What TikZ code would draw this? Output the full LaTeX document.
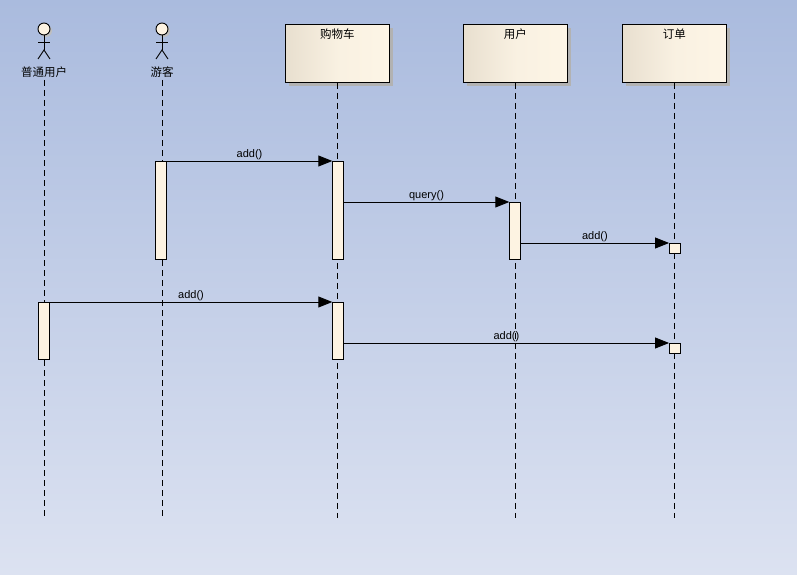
\documentclass[tikz,border=0pt]{standalone}
\usepackage{fontspec}
\setmainfont{Liberation Sans}
\newfontfamily\cjk{Noto Sans CJK SC}
\usetikzlibrary{arrows.meta,shadows}
\definecolor{bgtop}{RGB}{170,187,222}
\definecolor{bgbot}{RGB}{220,226,241}
\definecolor{boxl}{RGB}{232,223,207}
\definecolor{boxr}{RGB}{253,245,230}
\definecolor{actfill}{RGB}{253,243,226}
\tikzset{
  lifeline/.style={draw=black,line width=0.9pt,dash pattern=on 6pt off 4pt},
  objbox/.style={draw=black,line width=0.9pt,left color=boxl,right color=boxr,middle color=boxr!80!boxl,
     minimum width=104pt,minimum height=58pt,inner sep=0pt,anchor=north west,
     drop shadow={shadow xshift=4pt,shadow yshift=-4pt,fill=black!30,opacity=1}},
  actbar/.style={draw=black,line width=0.9pt,fill=actfill,inner sep=0pt,minimum width=10.5pt,anchor=north},
  msg/.style={draw=black,line width=0.9pt,-{Triangle[length=14pt,width=11pt]}},
  lbl/.style={font=\fontsize{11}{12}\selectfont,inner sep=1pt},
  cjklbl/.style={font=\cjk\fontsize{11.5}{12}\selectfont,inner sep=1pt},
  actorline/.style={draw=black,line width=0.9pt}
}
\begin{document}
\begin{tikzpicture}[x=1pt,y=-1pt]
\useasboundingbox (0,0) rectangle (797,575);
\shade[top color=bgtop,bottom color=bgbot] (0,0) rectangle (797,575);

% actors
\foreach \nm/\xx/\txt in {a1/44/普通用户,a2/162/游客}{
  \fill[black!25] (\xx+2,31) circle (6pt);
  \node[circle,draw=black,line width=0.9pt,fill=actfill,minimum size=12pt,inner sep=0pt] (\nm head) at (\xx,29) {};
  \draw[actorline] (\nm head.south) -- (\xx,50) coordinate (\nm hip);
  \draw[actorline] (\xx-6,42) -- (\xx+6,42);
  \draw[actorline] (\xx-6,59) -- (\nm hip) -- (\xx+6,59);
  \node[cjklbl] (\nm lbl) at (\xx,72) {\txt};
  \coordinate (\nm top) at (\xx,80);
  \coordinate (\nm end) at (\xx,518);
  \draw[lifeline] (\nm top) -- (\nm end);
}

% objects
\foreach \nm/\xx/\txt in {cart/285/购物车,user/463/用户,order/622/订单}{
  \node[objbox] (\nm) at (\xx,24) {};
  \node[cjklbl,anchor=north] at ([yshift=-4pt]\nm.north) {\txt};
  \coordinate (\nm end) at (\nm.south |- 0,518);
  \draw[lifeline] (\nm.south) -- (\nm end);
}

% activations
\node[actbar,minimum height=98pt] (g1) at (161,161) {};
\node[actbar,minimum height=98pt] (c1) at (338,161) {};
\node[actbar,minimum height=57pt] (u1) at (515,202) {};
\node[actbar,minimum width=11pt,minimum height=10pt] (o1) at (675,243) {};
\node[actbar,minimum height=57pt] (p1) at (44,302) {};
\node[actbar,minimum height=57pt] (c2) at (338,302) {};
\node[actbar,minimum width=11pt,minimum height=10pt] (o2) at (675,343) {};

% messages
\draw[msg] (g1.north east) -- node[lbl,above,pos=0.5]{add()} (c1.north west);
\draw[msg] (c1.east |- u1.north) -- node[lbl,above]{query()} (u1.north west);
\draw[msg] (u1.east |- o1.north) -- node[lbl,above]{add()} (o1.north west);
\draw[msg] (p1.north east) -- node[lbl,above]{add()} (c2.north west);
\draw[msg] (c2.east |- o2.north) -- node[lbl,above]{add()} (o2.north west);
\end{tikzpicture}
\end{document}
